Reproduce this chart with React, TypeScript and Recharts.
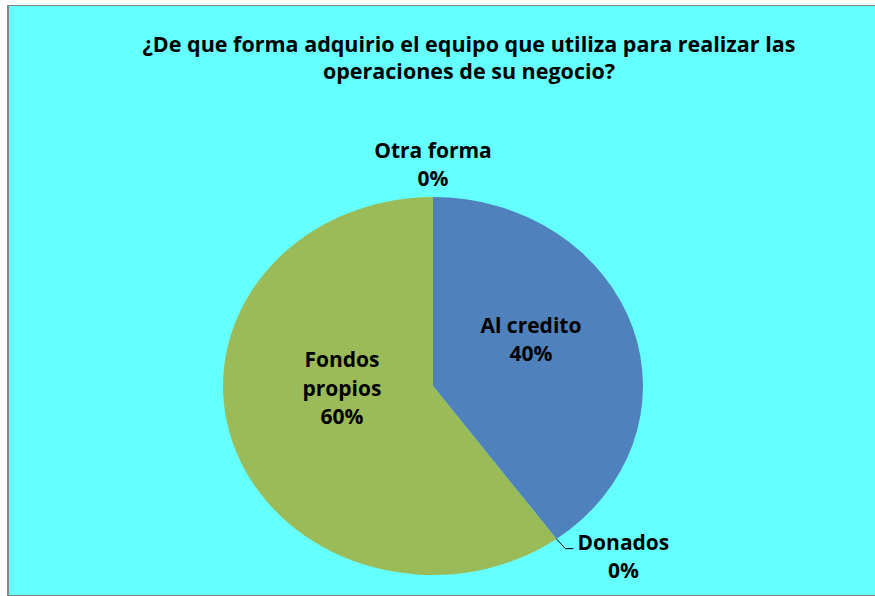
import React from 'react';
import { PieChart, Pie, Cell } from 'recharts';

const categories = ['Al credito', 'Donados', 'Fondos propios', 'Otra forma'];
const values = [40, 0, 60, 0];
const colors = ['#4F81BD', '#C0504D', '#9BBB59', '#8064A2'];
const titleLines = [
  '¿De que forma adquirio el equipo que utiliza para realizar las',
  'operaciones de su negocio?',
];

const data = categories.map((name, i) => ({ name, value: values[i] }));

const W = 875;
const H = 596;
const CX = 433;
const CY = 386;
const RY = 189;
const XSCALE = 210 / 189;
const FONT = '"Open Sans", "DejaVu Sans", sans-serif';
const LABEL_SIZE = 21;
const LINE_H = 28.5;
const BASE_OFF = 7;

// label placement (polar, relative to ellipse) for inside labels; offsets for outside labels
const labelPlacement: Record<string, any> = {
  'Al credito': { inside: true, angle: 27.5, r: 0.526, lines: ['Al credito'] },
  'Fondos propios': { inside: true, angle: 182, r: 0.434, lines: ['Fondos', 'propios'] },
  'Otra forma': { inside: false, dx: 0, dy: -32, lines: ['Otra forma'] },
  'Donados': { inside: false, dx: 67, dy: 18, lines: ['Donados'], leader: true },
};

const RAD = Math.PI / 180;

const EllipseSector = (props: any) => {
  const { cx, cy, outerRadius, startAngle, endAngle, fill } = props;
  if (Math.abs(endAngle - startAngle) < 1e-6) return <g />;
  const rx = outerRadius * XSCALE;
  const ry = outerRadius;
  const sx = cx + rx * Math.cos(startAngle * RAD);
  const sy = cy - ry * Math.sin(startAngle * RAD);
  const ex = cx + rx * Math.cos(endAngle * RAD);
  const ey = cy - ry * Math.sin(endAngle * RAD);
  const span = Math.abs(startAngle - endAngle);
  const large = span > 180 ? 1 : 0;
  const sweep = startAngle > endAngle ? 1 : 0;
  const d = `M ${cx} ${cy} L ${sx} ${sy} A ${rx} ${ry} 0 ${large} ${sweep} ${ex} ${ey} Z`;
  return <path d={d} fill={fill} stroke="none" />;
};

const renderLabel = (props: any) => {
  const { cx, cy, outerRadius, midAngle, name, percent } = props;
  const cfg = labelPlacement[name];
  if (!cfg) return null;
  const rx = outerRadius * XSCALE;
  const ry = outerRadius;
  const pct = `${Math.round((percent || 0) * 100)}%`;
  const lines = [...cfg.lines, pct];
  const n = lines.length;
  let px: number;
  let py: number;
  let leader = null;
  if (cfg.inside) {
    px = cx + rx * cfg.r * Math.cos(cfg.angle * RAD);
    py = cy - ry * cfg.r * Math.sin(cfg.angle * RAD);
  } else {
    const ex = cx + rx * Math.cos(midAngle * RAD);
    const ey = cy - ry * Math.sin(midAngle * RAD);
    px = ex + cfg.dx;
    py = ey + cfg.dy;
    if (cfg.leader) {
      const by = py - ((n - 1) * LINE_H) / 2 + BASE_OFF - 1;
      leader = (
        <polyline
          points={`${ex},${ey} ${ex + 9},${by} ${ex + 17},${by}`}
          fill="none"
          stroke="#000"
          strokeWidth={1}
        />
      );
    }
  }
  const firstBaseline = py - ((n - 1) * LINE_H) / 2 + BASE_OFF;
  return (
    <g>
      {leader}
      <text
        x={px}
        y={firstBaseline}
        textAnchor="middle"
        fontFamily={FONT}
        fontWeight={700}
        fontSize={LABEL_SIZE}
        fill="#000"
      >
        {lines.map((l, i) => (
          <tspan key={i} x={px} y={firstBaseline + i * LINE_H}>
            {l}
          </tspan>
        ))}
      </text>
    </g>
  );
};

export default function App() {
  return (
    <div
      style={{
        position: 'absolute',
        left: 0,
        top: 0,
        width: W,
        height: H,
        overflow: 'hidden',
        background: '#fff',
      }}
    >
      <div
        style={{
          position: 'absolute',
          left: 7,
          top: 5,
          width: W + 20,
          height: 589,
          background: '#66FFFF',
          border: '1px solid #868686',
          borderWidth: '1px 1px 2px 2px',
        }}
      />
      <svg
        width={W}
        height={H}
        style={{ position: 'absolute', left: 0, top: 0 }}
      >
        {titleLines.map((t, i) => (
          <text
            key={i}
            x={469}
            y={52 + i * 26.5}
            textAnchor="middle"
            fontFamily={FONT}
            fontWeight={700}
            fontSize={21.5}
            fill="#000"
          >
            {t}
          </text>
        ))}
      </svg>
      <div style={{ position: 'absolute', left: 0, top: 0 }}>
        <PieChart width={W} height={H} margin={{ top: 0, right: 0, bottom: 0, left: 0 }}>
          <Pie
            data={data}
            dataKey="value"
            nameKey="name"
            cx={CX}
            cy={CY}
            outerRadius={RY}
            startAngle={90}
            endAngle={-270}
            isAnimationActive={false}
            shape={EllipseSector}
            label={renderLabel}
            labelLine={false}
            stroke="none"
          >
            {data.map((d, i) => (
              <Cell key={d.name} fill={colors[i]} />
            ))}
          </Pie>
        </PieChart>
      </div>
    </div>
  );
}
